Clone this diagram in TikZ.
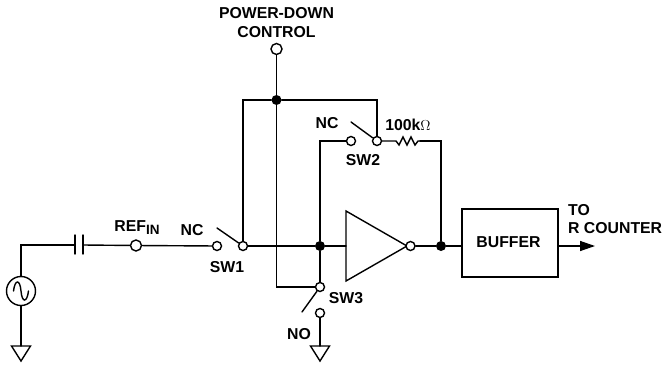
\documentclass[tikz,border=0pt]{standalone}
\usepackage{fontspec}
\setmainfont{Liberation Sans}
\usetikzlibrary{arrows.meta}

\tikzset{
    wire/.style={line width=1.4pt, line cap=round, line join=miter},
    term/.style={circle, draw, line width=1.4pt, fill=white, inner sep=0pt, minimum size=9pt},
    bigterm/.style={term, minimum size=11pt},
    joint/.style={circle, fill=black, inner sep=0pt, minimum size=10pt},
    lbl/.style={inner sep=0pt, font=\fontsize{15.8}{18}\selectfont\bfseries},
}

\begin{document}
\begin{tikzpicture}[x=1pt, y=-1pt]
        \useasboundingbox (0, 0) rectangle (663, 364);

        % Terminals
        \node[bigterm] (ctrl) at (276.5, 49) {};
        \node[bigterm] (refin) at (136, 245.5) {};
        \node[term] (nc1) at (217, 246) {};
        \node[term] (sw1) at (243, 246) {};
        \node[term] (nc2) at (351, 141) {};
        \node[term] (sw2) at (377, 141) {};
        \node[term] (sw3) at (320, 287) {};
        \node[term] (no) at (320, 313) {};

        % Junctions
        \node[joint] (top) at (276.5, 100) {};
        \node[joint] (inv) at (320, 246) {};
        \node[joint] (fb) at (441, 246) {};

        % Source
        \node[circle, draw, line width=1.4pt, inner sep=0pt, minimum size=29pt] (src) at (21, 291) {};
        \draw[wire] (13.5, 291) .. controls (15, 279) and (20, 279) .. (21, 291)
            .. controls (22, 303) and (27, 303) .. (28.5, 291);

        % Capacitor
        \coordinate (capa) at (75, 245);
        \coordinate (capb) at (83, 245);
        \draw[wire] (capa) ++(0, -10) -- ++(0, 19);
        \draw[wire] (capb) ++(0, -10) -- ++(0, 19);
        \draw[wire] (src) |- (capa);
        \draw[wire] (capb) -- (refin);
        \draw[wire] (refin) -- (nc1);

        % Grounds
        \coordinate (gnda) at (21, 346);
        \coordinate (gndb) at (320, 346);
        \draw[wire] (src) -- (gnda);
        \draw[wire] (no) -- (gndb);
        \draw[wire] (gnda) ++(-9.5, 0) -- ++(19, 0) -- ++(-9.5, 15) -- cycle;
        \draw[wire] (gndb) ++(-9.5, 0) -- ++(19, 0) -- ++(-9.5, 15) -- cycle;

        % Inverter
        \coordinate (tria) at (346, 211);
        \coordinate (trib) at (346, 281);
        \coordinate (tric) at (407, 246);
        \draw[wire] (tria) -- (tric) -- (trib) -- cycle;
        \node[term] (out) at (410.5, 246) {};

        % Buffer
        \node[draw, line width=1.4pt, minimum width=96pt, minimum height=68pt, inner sep=0pt] (buf) at (510, 243) {};
        \node[lbl] (buftxt) at (508.5, 242.5) {BUFFER};
        \coordinate (head) at (595, 246);
        \draw[wire, -{Triangle[length=15pt, width=10pt]}] (buf.east |- head) -- (head);

        % Signal path
        \draw[wire] (sw1) -- (inv);
        \draw[wire] (inv) -- (inv -| tria);
        \draw[wire] (out) -- (fb);
        \draw[wire] (fb) -- (fb -| buf.west);

        % Power-down lines
        \draw[wire] (ctrl) -- (top);
        \draw[wire] (sw1) |- (top);
        \draw[wire] (top) -| (sw2);
        \draw[wire] (top) |- (sw3);
        \draw[wire] (inv) -- (sw3);

        % Switch arms
        \draw[wire] (sw1) -- (217, 228);
        \draw[wire] (sw2) -- (351, 122);
        \draw[wire] (sw3) -- (302, 312);

        % SW2 and feedback
        \draw[wire] (nc2) -| (inv);
        \coordinate (resa) at (396, 141);
        \coordinate (resb) at (420, 141);
        \draw[wire] (sw2) -- (resa) -- ++(3, 4) -- ++(4, -8) -- ++(4, 8) -- ++(4, -8) -- ++(4, 8) -- ++(3, -4) -- (resb);
        \draw[wire] (resb) -| (fb);

        % Labels
        \node[lbl] (pd) at (276.5, 13) {POWER-DOWN};
        \node[lbl] (pdb) at (276.5, 32) {CONTROL};
        \node[lbl] (reftxt) at (137, 228) {REF\raisebox{-3pt}{\fontsize{13.5}{14}\selectfont IN}};
        \node[lbl] (nctxt) at (192, 230) {NC};
        \node[lbl] (swa) at (227, 267) {SW1};
        \node[lbl] (nctxtb) at (327, 123) {NC};
        \node[lbl] (swb) at (363, 160) {SW2};
        \node[lbl] (rtxt) at (408, 125) {100k$\Omega$};
        \node[lbl] (swc) at (346, 298) {SW3};
        \node[lbl] (notxt) at (299, 334) {NO};
        \node[lbl, anchor=west] (to) at (568, 210) {TO};
        \node[lbl, anchor=west] (rc) at (568, 228) {R COUNTER};

    \end{tikzpicture}
\end{document}
